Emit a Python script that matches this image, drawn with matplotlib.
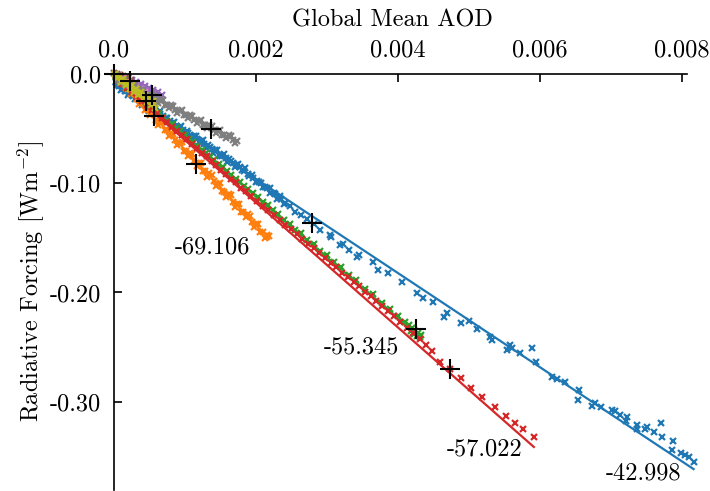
import matplotlib
matplotlib.use('Agg')
import matplotlib.pyplot as plt

plt.rcParams['font.family'] = 'cmr10'
plt.rcParams['mathtext.fontset'] = 'cm'
plt.rcParams['axes.unicode_minus'] = False

# ---------------- data ----------------
blue_x = [0.00003, 0.00008, 0.00012, 0.00017, 0.00022, 0.00027, 0.00031, 0.00036, 0.00041, 0.00046,
          0.00050, 0.00055, 0.00060, 0.00065, 0.00069, 0.00074, 0.00079, 0.00084, 0.00088, 0.00093,
          0.00098, 0.00103, 0.00108, 0.00113, 0.00118, 0.00123, 0.00128, 0.00133, 0.00138, 0.00143,
          0.00148, 0.00153, 0.00158, 0.00163, 0.00168, 0.00173, 0.00178, 0.00184, 0.00190, 0.00196,
          0.00202, 0.00208, 0.00214, 0.00220, 0.00227, 0.00234, 0.00241, 0.00248, 0.00256, 0.00264,
          0.00272, 0.00282, 0.00291, 0.00305, 0.00306, 0.00319, 0.00323, 0.00331, 0.00343, 0.00346,
          0.00366, 0.00373, 0.00387, 0.00406, 0.00427, 0.00436, 0.00450, 0.00465, 0.00469, 0.00489,
          0.00500, 0.00512, 0.00530, 0.00533, 0.00554, 0.00559, 0.00561, 0.00573, 0.00590, 0.00595,
          0.00617, 0.00624, 0.00636, 0.00655, 0.00654, 0.00674, 0.00678, 0.00686, 0.00702, 0.00707,
          0.00713, 0.00723, 0.00722, 0.00737, 0.00737, 0.00751, 0.00749, 0.00761, 0.00771, 0.00772,
          0.00788, 0.00786, 0.00799, 0.00805, 0.00811, 0.00817,
          0.000055, 0.000105, 0.000155, 0.000205, 0.000255, 0.000305, 0.000355, 0.000405, 0.000455, 0.000505,
          0.000555, 0.000605, 0.000655, 0.000705, 0.000755, 0.000805, 0.000855, 0.000905, 0.000955, 0.001005,
          0.001055, 0.001105, 0.001155, 0.001205, 0.001255, 0.001305, 0.001355, 0.001405, 0.001455, 0.001505,
          0.001555, 0.001605, 0.001655, 0.001705, 0.001755, 0.001805, 0.001855, 0.001905, 0.001955, 0.002005,
          0.002055, 0.002105, 0.002155, 0.002205, 0.002255, 0.002305, 0.002355, 0.002405]
blue_y = [-0.0080, -0.0112, -0.0140, -0.0162, -0.0178, -0.0205, -0.0228, -0.0243, -0.0270, -0.0289,
          -0.0318, -0.0326, -0.0352, -0.0369, -0.0392, -0.0405, -0.0436, -0.0448, -0.0476, -0.0487,
          -0.0515, -0.0529, -0.0561, -0.0572, -0.0598, -0.0618, -0.0644, -0.0651, -0.0690, -0.0702,
          -0.0741, -0.0749, -0.0776, -0.0783, -0.0818, -0.0839, -0.0858, -0.0889, -0.0921, -0.0950,
          -0.0985, -0.1002, -0.1035, -0.1049, -0.1098, -0.1122, -0.1186, -0.1211, -0.1262, -0.1288,
          -0.1330, -0.1375, -0.1429, -0.1475, -0.1490, -0.1566, -0.1557, -0.1612, -0.1673, -0.1658,
          -0.1719, -0.1795, -0.1825, -0.1901, -0.2007, -0.2053, -0.2084, -0.2221, -0.2190, -0.2276,
          -0.2257, -0.2336, -0.2409, -0.2434, -0.2525, -0.2480, -0.2510, -0.2550, -0.2510, -0.2632,
          -0.2769, -0.2790, -0.2815, -0.2890, -0.2982, -0.3037, -0.3012, -0.3049, -0.3073, -0.3080,
          -0.3119, -0.3140, -0.3171, -0.3210, -0.3250, -0.3226, -0.3250, -0.3271, -0.3195, -0.3323,
          -0.3353, -0.3438, -0.3463, -0.3484, -0.3505, -0.3551,
          -0.0109, -0.0150, -0.0157, -0.0198, -0.0195, -0.0236, -0.0218, -0.0289, -0.0281, -0.0342,
          -0.0314, -0.0365, -0.0347, -0.0418, -0.0410, -0.0471, -0.0443, -0.0494, -0.0476, -0.0547,
          -0.0539, -0.0600, -0.0572, -0.0623, -0.0605, -0.0676, -0.0668, -0.0729, -0.0701, -0.0752,
          -0.0734, -0.0805, -0.0797, -0.0858, -0.0830, -0.0881, -0.0863, -0.0934, -0.0926, -0.0987,
          -0.0989, -0.1040, -0.1042, -0.1093, -0.1095, -0.1146, -0.1148, -0.1189]

orange_x = [0.00003, 0.00006, 0.00009, 0.00012, 0.00015, 0.00018, 0.00021, 0.00024, 0.00027, 0.00030,
            0.00033, 0.00036, 0.00039, 0.00042, 0.00045, 0.00048, 0.00051, 0.00054, 0.00057, 0.00060,
            0.00063, 0.00066, 0.00069, 0.00072, 0.00075, 0.00078, 0.00081, 0.00084, 0.00087, 0.00090,
            0.00093, 0.00096, 0.00099, 0.00102, 0.00105, 0.00108, 0.00111, 0.00114, 0.00117, 0.00120,
            0.00123, 0.00126, 0.00129, 0.00132, 0.00135, 0.00138, 0.00141, 0.00144, 0.00147, 0.00150,
            0.00153, 0.00156, 0.00159, 0.00162, 0.00165, 0.00168, 0.00171, 0.00174, 0.00177, 0.00180,
            0.00183, 0.00186, 0.00189, 0.00192, 0.00195, 0.00198, 0.00201, 0.00204, 0.00207, 0.00210,
            0.00213, 0.00216, 0.00219]
orange_y = [-0.0019, -0.0043, -0.0070, -0.0080, -0.0091, -0.0133, -0.0145, -0.0184, -0.0173, -0.0185,
            -0.0236, -0.0280, -0.0260, -0.0255, -0.0331, -0.0332, -0.0382, -0.0353, -0.0364, -0.0425,
            -0.0470, -0.0446, -0.0442, -0.0518, -0.0518, -0.0569, -0.0540, -0.0550, -0.0611, -0.0657,
            -0.0633, -0.0628, -0.0704, -0.0705, -0.0756, -0.0726, -0.0737, -0.0798, -0.0843, -0.0819,
            -0.0815, -0.0891, -0.0891, -0.0942, -0.0913, -0.0924, -0.0984, -0.1030, -0.1006, -0.1002,
            -0.1077, -0.1078, -0.1129, -0.1099, -0.1110, -0.1171, -0.1217, -0.1192, -0.1188, -0.1264,
            -0.1265, -0.1315, -0.1286, -0.1297, -0.1357, -0.1403, -0.1379, -0.1375, -0.1450, -0.1451,
            -0.1502, -0.1473, -0.1483]

green_x = [0.00004, 0.00010, 0.00016, 0.00022, 0.00028, 0.00034, 0.00040, 0.00046, 0.00052, 0.00058,
           0.00064, 0.00070, 0.00076, 0.00082, 0.00088, 0.00094, 0.00100, 0.00106, 0.00112, 0.00118,
           0.00124, 0.00130, 0.00136, 0.00142, 0.00148, 0.00154, 0.00160, 0.00166, 0.00172, 0.00178,
           0.00184, 0.00190, 0.00196, 0.00203, 0.00210, 0.00217, 0.00224, 0.00232, 0.00240, 0.00248,
           0.00256, 0.00264, 0.00273, 0.00282, 0.00291, 0.00300, 0.00310, 0.00320, 0.00331, 0.00342,
           0.00354, 0.00366, 0.00378, 0.00390, 0.00400, 0.00410, 0.00416, 0.00419, 0.00421, 0.00423,
           0.00425, 0.00427, 0.00429, 0.00431, 0.00433]
green_y = [-0.0030, -0.0062, -0.0098, -0.0128, -0.0165, -0.0196, -0.0230, -0.0262, -0.0298, -0.0327,
           -0.0364, -0.0395, -0.0430, -0.0461, -0.0497, -0.0527, -0.0562, -0.0594, -0.0630, -0.0659,
           -0.0696, -0.0726, -0.0762, -0.0792, -0.0829, -0.0858, -0.0895, -0.0924, -0.0961, -0.0990,
           -0.1027, -0.1055, -0.1094, -0.1126, -0.1170, -0.1203, -0.1248, -0.1284, -0.1336, -0.1372,
           -0.1425, -0.1460, -0.1517, -0.1560, -0.1618, -0.1657, -0.1722, -0.1766, -0.1838, -0.1885,
           -0.1966, -0.2018, -0.2098, -0.2148, -0.2215, -0.2268, -0.2300, -0.2348, -0.2322, -0.2375,
           -0.2350, -0.2395, -0.2370, -0.2410, -0.2388]

red_x = [0.00005, 0.00012, 0.00019, 0.00026, 0.00033, 0.00040, 0.00047, 0.00054, 0.00061, 0.00068,
         0.00075, 0.00082, 0.00089, 0.00096, 0.00103, 0.00110, 0.00117, 0.00124, 0.00131, 0.00138,
         0.00145, 0.00152, 0.00159, 0.00166, 0.00173, 0.00180, 0.00187, 0.00194, 0.00202, 0.00210,
         0.00218, 0.00226, 0.00234, 0.00242, 0.00250, 0.00258, 0.00266, 0.00274, 0.00282, 0.00290,
         0.00298, 0.00306, 0.00314, 0.00322, 0.00330, 0.00338, 0.00346, 0.00354, 0.00362, 0.00370,
         0.00378, 0.00386, 0.00395, 0.00404, 0.00413, 0.00422, 0.00431, 0.00440, 0.00449, 0.00460,
         0.00474, 0.00490, 0.00504, 0.00519, 0.00537, 0.00553, 0.00565, 0.00577, 0.00592]
red_y = [-0.0050, -0.0095, -0.0131, -0.0170, -0.0205, -0.0248, -0.0285, -0.0330, -0.0361, -0.0408,
         -0.0442, -0.0486, -0.0521, -0.0566, -0.0600, -0.0645, -0.0679, -0.0725, -0.0758, -0.0803,
         -0.0838, -0.0881, -0.0916, -0.0963, -0.0995, -0.1042, -0.1075, -0.1121, -0.1162, -0.1210,
         -0.1248, -0.1296, -0.1335, -0.1383, -0.1421, -0.1470, -0.1508, -0.1557, -0.1595, -0.1641,
         -0.1683, -0.1727, -0.1770, -0.1818, -0.1855, -0.1902, -0.1940, -0.1991, -0.2032, -0.2080,
         -0.2121, -0.2172, -0.2218, -0.2271, -0.2322, -0.2371, -0.2425, -0.2480, -0.2530, -0.2632,
         -0.2703, -0.2784, -0.2875, -0.2952, -0.3043, -0.3128, -0.3189, -0.3249, -0.3322]

purple_x = [0.00002, 0.00005, 0.00008, 0.00011, 0.00014, 0.00017, 0.00020, 0.00023, 0.00026, 0.00029,
            0.00032, 0.00035, 0.00038, 0.00041, 0.00044, 0.00047, 0.00050, 0.00053, 0.00056, 0.00059,
            0.00062, 0.00065, 0.00068]
purple_y = [-0.0004, -0.0028, -0.0010, -0.0052, -0.0028, -0.0075, -0.0043, -0.0096, -0.0060, -0.0118,
            -0.0078, -0.0138, -0.0096, -0.0158, -0.0115, -0.0177, -0.0133, -0.0196, -0.0152, -0.0214,
            -0.0172, -0.0232, -0.0195]

brown_x = [0.00001, 0.00003, 0.00005, 0.00007, 0.00009, 0.00011, 0.00013, 0.00015, 0.00017, 0.00019,
           0.00021, 0.00023, 0.00025]
brown_y = [0.0005, -0.0022, 0.0000, -0.0035, -0.0010, -0.0046, -0.0021, -0.0058, -0.0032, -0.0069,
           -0.0043, -0.0080, -0.0056]

pink_x = [0.00002, 0.00005, 0.00008, 0.00011, 0.00014, 0.00017, 0.00020, 0.00023, 0.00026, 0.00029,
          0.00032, 0.00035, 0.00038, 0.00041, 0.00044, 0.00047, 0.00050, 0.00053, 0.00056, 0.00059]
pink_y = [-0.0004, -0.0032, -0.0020, -0.0062, -0.0044, -0.0088, -0.0068, -0.0114, -0.0092, -0.0139,
          -0.0118, -0.0165, -0.0142, -0.0190, -0.0166, -0.0216, -0.0192, -0.0241, -0.0218, -0.0262]

gray_x = [0.00003, 0.00006, 0.00009, 0.00012, 0.00015, 0.00018, 0.00021, 0.00024, 0.00027, 0.00030,
          0.00033, 0.00036, 0.00039, 0.00042, 0.00045, 0.00048, 0.00051, 0.00054, 0.00057, 0.00060,
          0.00063, 0.00066, 0.00069, 0.00072, 0.00075, 0.00078, 0.00081, 0.00084, 0.00087, 0.00090,
          0.00093, 0.00096, 0.00099, 0.00102, 0.00105, 0.00108, 0.00111, 0.00114, 0.00117, 0.00120,
          0.00123, 0.00126, 0.00129, 0.00132, 0.00135, 0.00138, 0.00141, 0.00144, 0.00147, 0.00150,
          0.00153, 0.00156, 0.00159, 0.00162, 0.00165, 0.00168, 0.00171, 0.00174]
gray_y = [-0.0018, -0.0058, -0.0087, -0.0063, -0.0055, -0.0106, -0.0101, -0.0134, -0.0107, -0.0110,
          -0.0150, -0.0178, -0.0155, -0.0147, -0.0198, -0.0193, -0.0225, -0.0199, -0.0202, -0.0242,
          -0.0270, -0.0246, -0.0239, -0.0290, -0.0285, -0.0317, -0.0290, -0.0294, -0.0334, -0.0362,
          -0.0338, -0.0330, -0.0382, -0.0377, -0.0409, -0.0382, -0.0385, -0.0426, -0.0454, -0.0430,
          -0.0422, -0.0473, -0.0469, -0.0501, -0.0474, -0.0477, -0.0517, -0.0546, -0.0522, -0.0514,
          -0.0565, -0.0560, -0.0593, -0.0566, -0.0569, -0.0609, -0.0637, -0.0614]

olive_x = [0.00002, 0.00005, 0.00008, 0.00011, 0.00014, 0.00017, 0.00020, 0.00023, 0.00026, 0.00029,
           0.00032, 0.00035, 0.00038, 0.00041, 0.00044, 0.00047, 0.00050, 0.00053, 0.00056, 0.00059]
olive_y = [-0.0006, -0.0040, -0.0022, -0.0075, -0.0050, -0.0106, -0.0078, -0.0137, -0.0108, -0.0168,
           -0.0137, -0.0199, -0.0166, -0.0230, -0.0195, -0.0260, -0.0225, -0.0292, -0.0255, -0.0318]

series_names = ['blue', 'orange', 'green', 'red', 'purple', 'brown', 'pink', 'gray', 'olive']
series_colors = ['#1f77b4', '#ff7f0e', '#2ca02c', '#d62728', '#9467bd', '#8c564b', '#e377c2',
                 '#7f7f7f', '#bcbd22']
series_x = [blue_x, orange_x, green_x, red_x, purple_x, brown_x, pink_x, gray_x, olive_x]
series_y = [blue_y, orange_y, green_y, red_y, purple_y, brown_y, pink_y, gray_y, olive_y]
fit_slopes = [-42.998, -69.106, -55.345, -57.022, -32.0, -28.0, -42.0, -34.0, -50.0]
fit_intercepts = [-0.010, 0.0, -0.0015, -0.0035, 0.0, 0.0, 0.0, -0.003, 0.0]

# labelled slopes (text, x, y)
label_texts = ['-42.998', '-69.106', '-55.345', '-57.022']
label_x = [0.00747, 0.00140, 0.00349, 0.00523]
label_y = [-0.3650, -0.1587, -0.2498, -0.3430]

# marked points (black crosses)
mark_x = [0.0, 0.000239, 0.000535, 0.000451, 0.000563, 0.001366, 0.001155, 0.002789, 0.004254, 0.00474]
mark_y = [0.0, -0.0064, -0.0196, -0.0247, -0.0384, -0.0507, -0.0826, -0.1365, -0.2329, -0.2703]

xticks = [0.0, 0.002, 0.004, 0.006, 0.008]
xtick_labels = ['0.0', '0.002', '0.004', '0.006', '0.008']
yticks = [0.0, -0.10, -0.20, -0.30]
ytick_labels = ['0.0', '-0.10', '-0.20', '-0.30']

# ---------------- plot ----------------
FS = 17.5
fig = plt.figure(figsize=(7.1, 4.91), dpi=100)
ax = fig.add_axes([0.1599, 0.0029, 0.8077, 0.8474])

for xs, ys, c, m, b in zip(series_x, series_y, series_colors, fit_slopes, fit_intercepts):
    ax.plot(xs, ys, linestyle='none', marker='x', ms=4, mew=1.6, color=c, clip_on=False)
    xe = max(xs)
    ax.plot([0.0, xe], [b, b + m * xe], color=c, lw=1.6, clip_on=False)

ax.plot(mark_x, mark_y, linestyle='none', marker='+', ms=14, mew=1.5, color='black',
        zorder=10, clip_on=False)

for t, tx, ty in zip(label_texts, label_x, label_y):
    ax.text(tx, ty, t, ha='center', va='center', fontsize=FS)

ax.set_xlim(0, 0.008077)
ax.set_ylim(-0.38, 0.0)

ax.spines['right'].set_visible(False)
ax.spines['bottom'].set_visible(False)
ax.spines['left'].set_linewidth(1.2)
ax.spines['top'].set_linewidth(1.2)
ax.xaxis.tick_top()
ax.xaxis.set_label_position('top')
ax.set_xticks(xticks)
ax.set_xticklabels(xtick_labels)
ax.set_yticks(yticks)
ax.set_yticklabels(ytick_labels)
ax.tick_params(axis='both', direction='in', length=6, width=1.2, labelsize=FS, pad=9)
ax.set_xlabel('Global Mean AOD', fontsize=FS, labelpad=7)
ax.xaxis.set_label_coords(0.487, 1.10)
ax.xaxis.label.set_verticalalignment('bottom')
ax.set_ylabel('Radiative Forcing [Wm$^{-2}$]', fontsize=FS, labelpad=2)

fig.savefig('out.png', dpi=100)
